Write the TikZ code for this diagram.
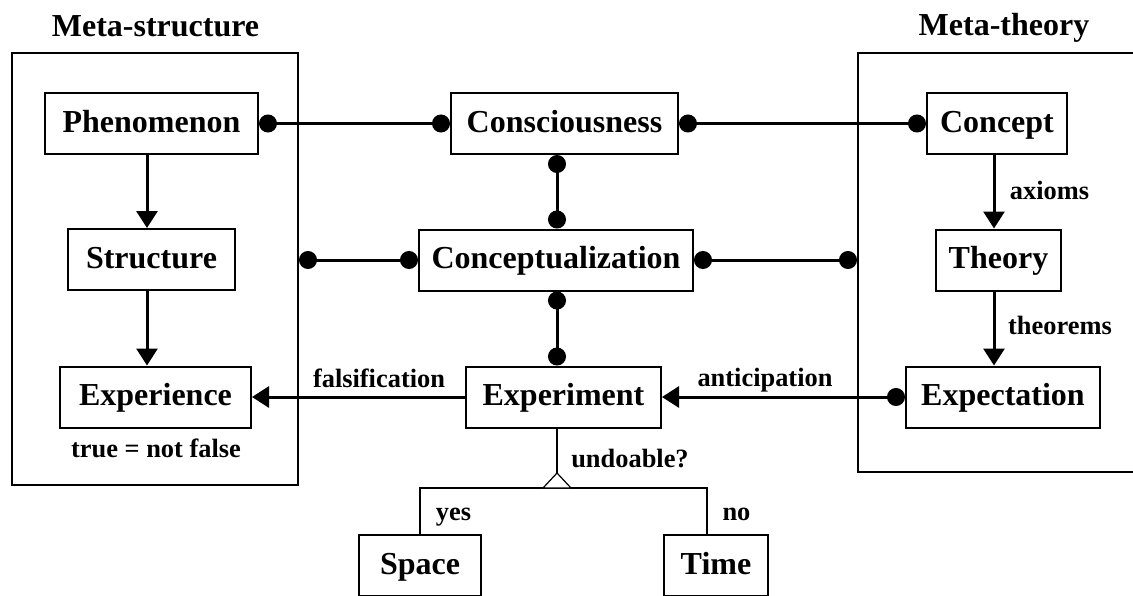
\documentclass[tikz,border=0pt]{standalone}
\usepackage{fontspec}
\setmainfont{Liberation Serif}
\usetikzlibrary{arrows.meta}
\begin{document}
\begin{tikzpicture}[x=1pt,y=-1pt,line width=2pt,
  box/.style={draw, inner sep=0pt, minimum height=61pt,
    font=\bfseries\fontsize{32}{36}\selectfont, text height=22.4pt, text depth=5.4pt},
  frame/.style={draw, inner sep=0pt},
  lbl/.style={font=\bfseries\fontsize{26.4}{30}\selectfont, anchor=base, inner sep=0pt},
  ttl/.style={font=\bfseries\fontsize{32}{36}\selectfont, anchor=base, inner sep=0pt},
  link/.style={line width=3pt},
  bdot/.tip={Circle[length=18pt]},
  barr/.tip={Triangle[length=17pt,width=21pt]},
]
\clip (0,0) rectangle (1133,595);

% group frames and their titles
\node[frame, minimum width=286pt, minimum height=432pt] (ms) at (155,269) {};
\node[frame, minimum width=290pt, minimum height=419pt] (mt) at (1003,262.5) {};
\node[ttl] (mstitle) at (155.5,36) {Meta-structure};
\node[ttl] (mttitle) at (1004,35) {Meta-theory};

% boxes
\node[box, minimum width=213pt] (phen) at (151.5,123.5) {Phenomenon};
\node[box, minimum width=167pt] (struc) at (151.5,259.5) {Structure};
\node[box, minimum width=191pt] (exper) at (155.5,397) {Experience};
\node[box, minimum width=227pt] (consc) at (564.5,123.5) {Consciousness};
\node[box, minimum width=274pt] (conc) at (556,260) {Conceptualization};
\node[box, minimum width=195pt] (expt) at (563.5,397) {Experiment};
\node[box, minimum width=140pt] (concept) at (997,123.5) {Concept};
\node[box, minimum width=125pt] (theory) at (998.5,260) {Theory};
\node[box, minimum width=194pt] (expect) at (1003,397) {Expectation};
\node[box, minimum width=122pt] (space) at (420,565.5) {Space};
\node[box, minimum width=104pt] (time) at (716,565.5) {Time};

% labels
\node[lbl] (truth) at (156,457) {true = not false};
\node[lbl] (lfals) at (379,387) {falsification};
\node[lbl] (lanti) at (765,386) {anticipation};
\node[lbl] (laxio) at (1049.5,199) {axioms};
\node[lbl] (ltheo) at (1060,334) {theorems};
\node[lbl] (lundo) at (630,467) {undoable?};
\node[lbl] (lyes) at (453.5,520) {yes};
\node[lbl] (lno) at (736.5,520) {no};

% guide columns for vertical connectors
\coordinate (vx) at (557,0);
\coordinate (lx) at (147,0);
\coordinate (rx) at (994,0);

% ball-ended links
\draw[link, bdot-bdot] (phen.east) -- (consc.west);
\draw[link, bdot-bdot] (consc.east) -- (concept.west);
\draw[link, bdot-bdot] (consc.south -| vx) -- (conc.north -| vx);
\draw[link, bdot-bdot] (ms.east |- conc.west) -- (conc.west);
\draw[link, bdot-bdot] (conc.east) -- (mt.west |- conc.east);
\draw[link, bdot-bdot] (conc.south -| vx) -- (expt.north -| vx);

% arrows
\draw[link, -barr] (expt.west) -- (exper.east);
\draw[link, bdot-barr] (expect.west) -- (expt.east);
\draw[link, -barr] (phen.south -| lx) -- (struc.north -| lx);
\draw[link, -barr] (struc.south -| lx) -- (exper.north -| lx);
\draw[link, -barr] (concept.south -| rx) -- (theory.north -| rx);
\draw[link, -barr] (theory.south -| rx) -- (expect.north -| rx);

% branching below the experiment
\coordinate (apex) at (557,473);
\coordinate (bar) at (557,488);
\coordinate (sx) at (420,0);
\coordinate (tx) at (707,0);
\draw (expt.south -| vx) -- (apex);
\draw (space.north -| sx) -- (sx |- bar) -- (tx |- bar) -- (time.north -| tx);
\draw[line width=1.2pt, fill=white] (apex) -- ++(-14,15) -- ++(28,0) -- cycle;
\end{tikzpicture}
\end{document}
